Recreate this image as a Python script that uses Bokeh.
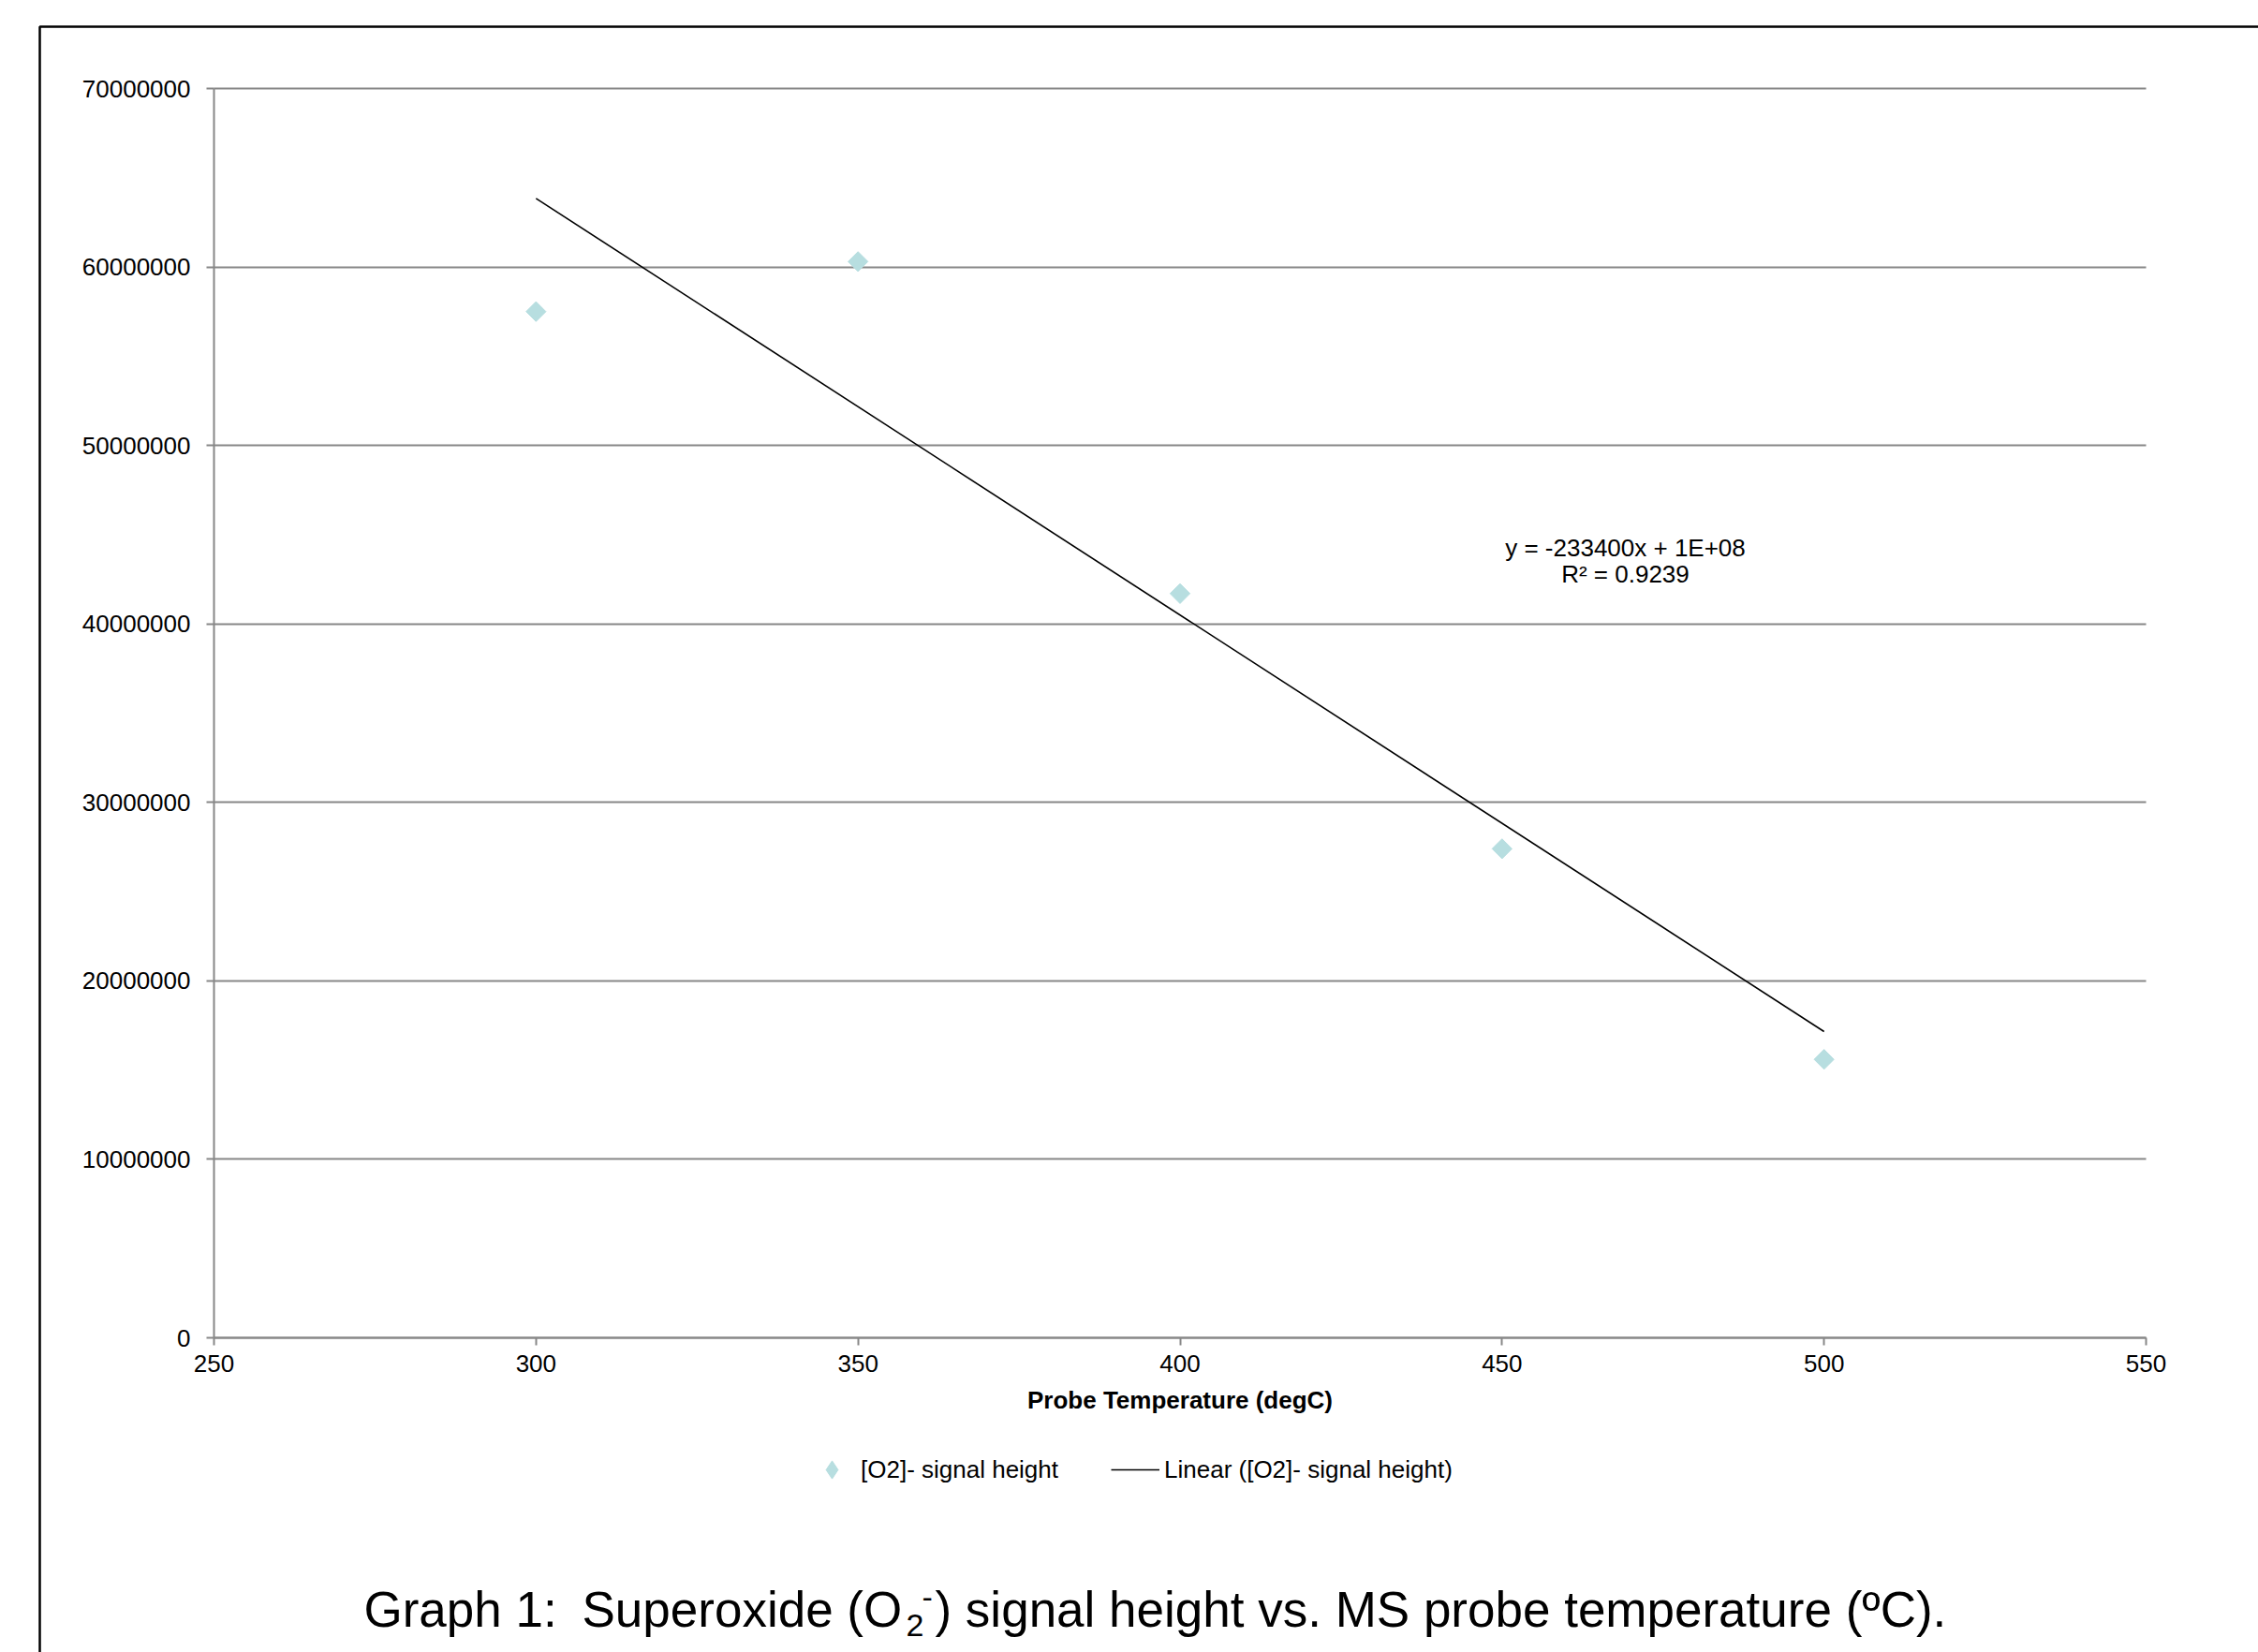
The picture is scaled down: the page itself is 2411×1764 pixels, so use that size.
import numpy as np
from bokeh.plotting import figure
from bokeh.models import (Range1d, FixedTicker, BasicTickFormatter, Label, Legend,
                          LegendItem, BoxAnnotation)
from bokeh.embed import file_html
from bokeh.resources import INLINE

# ---- data ----
temperature = [300, 350, 400, 450, 500]
signal_height = [57.5e6, 60.3e6, 41.7e6, 27.4e6, 15.6e6]
x_ticks = [250, 300, 350, 400, 450, 500, 550]
y_ticks = [0, 10000000, 20000000, 30000000, 40000000, 50000000, 60000000, 70000000]
series_name = "[O2]- signal height"
trend_name = "Linear ([O2]- signal height)"
equation_text = "y = -233400x + 1E+08"
r2_text = "R² = 0.9239"
x_label = "Probe Temperature (degC)"
title_parts = ["Graph 1:", "Superoxide (O", "2", "-",
               ") signal height vs. MS probe temperature (ºC)."]

# linear trend line (least squares over the series)
slope, intercept = np.polyfit(temperature, signal_height, 1)
trend_x = [min(temperature), max(temperature)]
trend_y = [slope * t + intercept for t in trend_x]

# ---- layout (pixels on the canvas) ----
W, H = 2411, 1764
AX_L, AX_R, AX_T, AX_B = 228, 2291, 94, 1428   # plotting area
x0, x1 = x_ticks[0], x_ticks[-1]
y0, y1 = y_ticks[0], y_ticks[-1]
kx = (x1 - x0) / (AX_R - AX_L)
ky = (y1 - y0) / (AX_B - AX_T)
xr = Range1d(x0 - AX_L * kx, x1 + (W - AX_R) * kx)
yr = Range1d(y0 - (H - AX_B) * ky, y1 + AX_T * ky)

FONT = "Liberation Sans"
GREY = "#878787"
MARKER = "#B7DEE0"

p = figure(width=W, height=H, output_backend="svg", toolbar_location=None,
           x_range=xr, y_range=yr, min_border=0,
           min_border_left=0, min_border_right=0, min_border_top=0, min_border_bottom=0)
p.outline_line_color = None
p.background_fill_color = "white"
p.border_fill_color = "white"

p.xgrid.visible = False
p.ygrid.grid_line_color = GREY
p.ygrid.grid_line_width = 2
p.ygrid.ticker = FixedTicker(ticks=y_ticks)
p.ygrid.bounds = (y0, y1)
p.ygrid.cross_bounds = (x0, x1)

p.xaxis.ticker = FixedTicker(ticks=x_ticks)
p.yaxis.ticker = FixedTicker(ticks=y_ticks)
p.yaxis.formatter = BasicTickFormatter(use_scientific=False)
p.xaxis.fixed_location = y0
p.yaxis.fixed_location = x0
p.xaxis.bounds = (x0, x1)
p.yaxis.bounds = (y0, y1)
for ax in (p.xaxis[0], p.yaxis[0]):
    ax.axis_line_color = GREY
    ax.axis_line_width = 2
    ax.major_tick_line_color = GREY
    ax.major_tick_line_width = 2
    ax.major_tick_out = 8
    ax.major_tick_in = 0
    ax.minor_tick_line_color = None
    ax.major_label_text_font = FONT
    ax.major_label_text_font_size = "26px"
    ax.major_label_text_color = "black"
p.yaxis.major_label_standoff = 17
p.xaxis.major_label_standoff = 10
p.xaxis.axis_label = x_label
p.xaxis.axis_label_text_font = FONT
p.xaxis.axis_label_text_font_size = "26px"
p.xaxis.axis_label_text_font_style = "bold"
p.xaxis.axis_label_text_color = "black"
p.xaxis.axis_label_standoff = 12

ln = p.line(trend_x, trend_y, line_color="black", line_width=1.6)
# diamond renderer (hidden under the rotated squares) gives the legend its diamond
dm = p.scatter(temperature, signal_height, marker="diamond", size=14,
               fill_color=MARKER, line_color=MARKER)
sc = p.scatter(temperature, signal_height, marker="square", size=15, angle=np.pi / 4,
               fill_color=MARKER, line_color=MARKER)

legend = Legend(items=[LegendItem(label=series_name, renderers=[dm]),
                       LegendItem(label=trend_name, renderers=[ln])],
                orientation="horizontal", location=(862, H - 1593),
                glyph_width=52, glyph_height=48, label_height=30, label_standoff=5,
                spacing=56, padding=0, margin=0, border_line_color=None,
                background_fill_alpha=0, label_text_font=FONT,
                label_text_font_size="26px", label_text_color="black")
p.add_layout(legend)

# trendline equation
p.add_layout(Label(x=1735, y=H - 584, x_units="screen", y_units="screen", text=equation_text,
                   text_align="center", text_baseline="middle", text_font=FONT,
                   text_font_size="26px", text_color="black"))
p.add_layout(Label(x=1735, y=H - 612, x_units="screen", y_units="screen", text=r2_text,
                   text_align="center", text_baseline="middle", text_font=FONT,
                   text_font_size="26px", text_color="black"))

# caption with sub/superscript
cap = [(388, 1718, "53px"), (621, 1718, "53px"), (967, 1735, "34px"),
       (984, 1705, "34px"), (998, 1718, "53px")]
for (cx, cy, fs), txt in zip(cap, title_parts):
    p.add_layout(Label(x=cx, y=H - cy, x_units="screen", y_units="screen", text=txt,
                       text_align="left", text_baseline="middle", text_font=FONT,
                       text_font_size=fs, text_color="black"))

# outer frame of the figure
p.add_layout(BoxAnnotation(left=42, right=W + 200, top=H - 28, bottom=-200,
                           left_units="screen", right_units="screen",
                           top_units="screen", bottom_units="screen",
                           fill_alpha=0, line_color="black", line_width=2.5, line_alpha=1))

open("out.html", "w").write(file_html(p, INLINE))
